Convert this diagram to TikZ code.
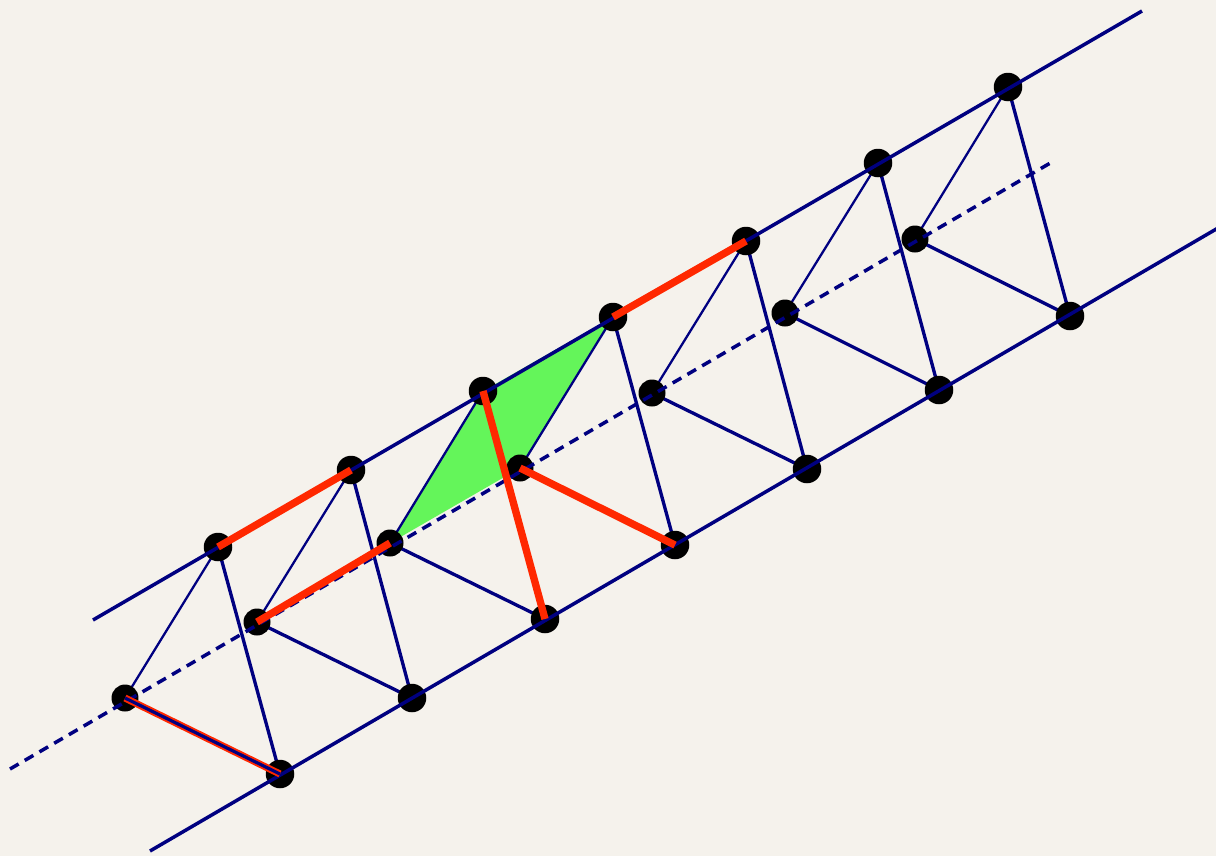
\documentclass[tikz,border=0pt]{standalone}
\definecolor{bgc}{RGB}{245,242,236}
\definecolor{navyc}{RGB}{0,0,128}
\definecolor{redc}{RGB}{255,40,0}
\definecolor{greenc}{RGB}{100,245,90}
\pgfdeclarelayer{back}
\pgfdeclarelayer{front}
\pgfsetlayers{back,main,front}
\tikzset{
  dot/.style={circle,fill=black,inner sep=0pt,minimum size=0.57cm},
  thinedge/.style={draw=navyc,line width=1.3pt},
  edge/.style={draw=navyc,line width=1.9pt},
  longline/.style={draw=navyc,line width=2pt},
  dashline/.style={draw=navyc,line width=2pt,dash pattern=on 5.7pt off 4pt},
  redline/.style={draw=redc,line width=4.2pt},
  greenfill/.style={fill=greenc}
}
\begin{document}
\begin{tikzpicture}[x=0.02cm,y=-0.02cm]
% end points of the long lines
\coordinate (T0) at (93,620);
\coordinate (T1) at (1142,11);
\coordinate (D0) at (10,769);
\coordinate (D1) at (1052,162);
\coordinate (L0) at (150,851);
\coordinate (L1) at (1218,228);
% dots
\node[dot] (A1) at (218,547) {};
\node[dot] (A2) at (351,470) {};
\node[dot] (A3) at (483,391) {};
\node[dot] (A4) at (613,317) {};
\node[dot] (A5) at (746,241) {};
\node[dot] (A6) at (878,163) {};
\node[dot] (A7) at (1008,87) {};
\node[dot,minimum size=0.54cm] (M1) at (125,698) {};
\node[dot,minimum size=0.54cm] (M2) at (257,622) {};
\node[dot,minimum size=0.54cm] (M3) at (390,543) {};
\node[dot,minimum size=0.54cm] (M4) at (520,468) {};
\node[dot,minimum size=0.54cm] (M5) at (652,393) {};
\node[dot,minimum size=0.54cm] (M6) at (785,313) {};
\node[dot,minimum size=0.54cm] (M7) at (915,239) {};
\node[dot] (B1) at (280,774) {};
\node[dot] (B2) at (412,698) {};
\node[dot] (B3) at (545,619) {};
\node[dot] (B4) at (675,545) {};
\node[dot] (B5) at (807,469) {};
\node[dot] (B6) at (939,390) {};
\node[dot] (B7) at (1070,316) {};
\begin{pgfonlayer}{back}
  \fill[bgc] (0,0) rectangle (1216,856);
  \fill[greenfill] (M3.center) -- (A3.center) -- (A4.center) -- (M4.center) -- cycle;
  \foreach \i in {1,...,7}{
    \draw[thinedge] (A\i.center) -- (M\i.center);
    \draw[edge] (A\i.center) -- (B\i.center);
    \draw[edge] (M\i.center) -- (B\i.center);
  }
\end{pgfonlayer}
\useasboundingbox (0,0) rectangle (1216,856);
\begin{pgfonlayer}{front}
  \draw[longline] (T0) -- (T1);
  \draw[dashline] (D0) -- (D1);
  \draw[longline] (L0) -- (L1);
  \draw[redc,line width=4pt] (M1.center) -- (B1.center);
  \draw[navyc,line width=1.8pt] (M1.center) -- (B1.center);
  \draw[redline] (A1.center) -- (A2.center);
  \draw[redline] (M2.center) -- (M3.center);
  \draw[redline] (A4.center) -- (A5.center);
  \draw[redline] (A3.center) -- (B3.center);
  \draw[redline] (M4.center) -- (B4.center);
\end{pgfonlayer}
\end{tikzpicture}
\end{document}
